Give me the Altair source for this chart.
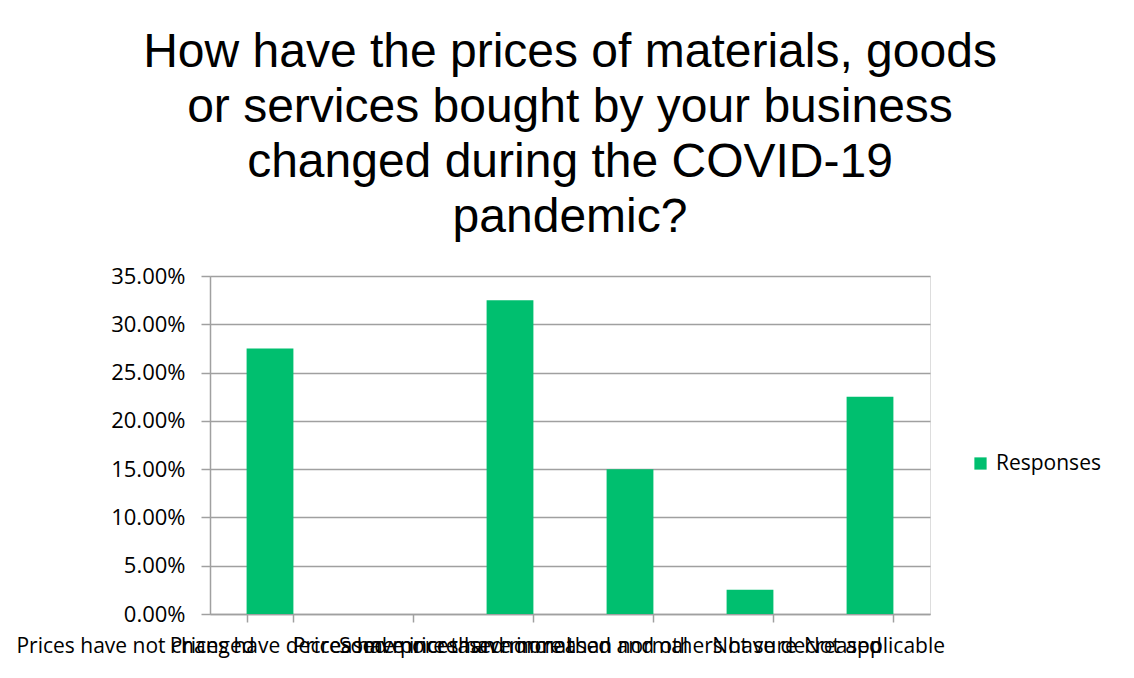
import altair as alt
import pandas as pd

categories = [
    "Prices have not changed",
    "Prices have decreased more than normal",
    "Prices have increased more than normal",
    "Some prices have increased and others have decreased",
    "Not sure",
    "Not applicable",
]
responses = [0.275, 0.0, 0.325, 0.15, 0.025, 0.225]
series_name = "Responses"
y_ticks = [0, 0.05, 0.10, 0.15, 0.20, 0.25, 0.30, 0.35]
title_lines = [
    "How have the prices of materials, goods",
    "or services bought by your business",
    "changed during the COVID-19",
    "pandemic?",
]

df = pd.DataFrame({"Answer": categories, "Value": responses, "Series": series_name})

FONT = "Open Sans"

middle_test = " || ".join(f"datum.value === '{c}'" for c in categories[1:4])

chart = (
    alt.Chart(df)
    .mark_bar()
    .encode(
        x=alt.X(
            "Answer:N",
            sort=categories,
            title=None,
            scale=alt.Scale(paddingInner=0.61, paddingOuter=0.305),
            axis=alt.Axis(
                labelAngle=0,
                labelOverlap=False,
                labelLimit=0,
                labelFont=FONT,
                labelFontSize=21,
                labelColor="#000000",
                labelPadding=13,
                labelOffset={
                    "condition": [
                        {"test": f"datum.value === '{categories[0]}'", "value": -135},
                        {"test": middle_test, "value": -20},
                    ],
                    "value": 4,
                },
                tickBand="extent",
                tickSize=8,
                tickColor="#A0A0A0",
                tickWidth=1.5,
                domainColor="#A0A0A0",
                domainWidth=1.5,
                grid=False,
            ),
        ),
        y=alt.Y(
            "Value:Q",
            title=None,
            scale=alt.Scale(domain=[0, 0.35], nice=False),
            axis=alt.Axis(
                values=y_ticks,
                format=".2%",
                labelFont=FONT,
                labelFontSize=22,
                labelColor="#000000",
                labelPadding=16,
                tickSize=9,
                tickColor="#A0A0A0",
                tickWidth=1.5,
                domainColor="#A0A0A0",
                domainWidth=1.5,
                gridColor="#A0A0A0",
                gridWidth=1.5,
            ),
        ),
        color=alt.Color(
            "Series:N",
            scale=alt.Scale(range=["#00BF6F"]),
            legend=alt.Legend(
                title=None,
                orient="none",
                legendX=760,
                legendY=177,
                symbolType="square",
                symbolSize=150,
                symbolStrokeWidth=0,
                symbolOpacity=1,
                labelFont=FONT,
                labelFontSize=21,
                labelColor="#000000",
                labelOffset=5,
            ),
        ),
    )
    .properties(
        width=720,
        height=338,
        autosize=alt.AutoSizeParams(type="none"),
        padding={"left": 202, "top": 268, "right": 180, "bottom": 50},
        title=alt.TitleParams(
            text=title_lines,
            font="Liberation Sans",
            fontSize=48,
            fontWeight="normal",
            lineHeight=55,
            color="#000000",
            anchor="middle",
            offset=23,
        ),
    )
    .configure_view(stroke=None)
    .configure(background="white")
)

chart.save("out.html", embed_options={"renderer": "svg", "actions": False})
